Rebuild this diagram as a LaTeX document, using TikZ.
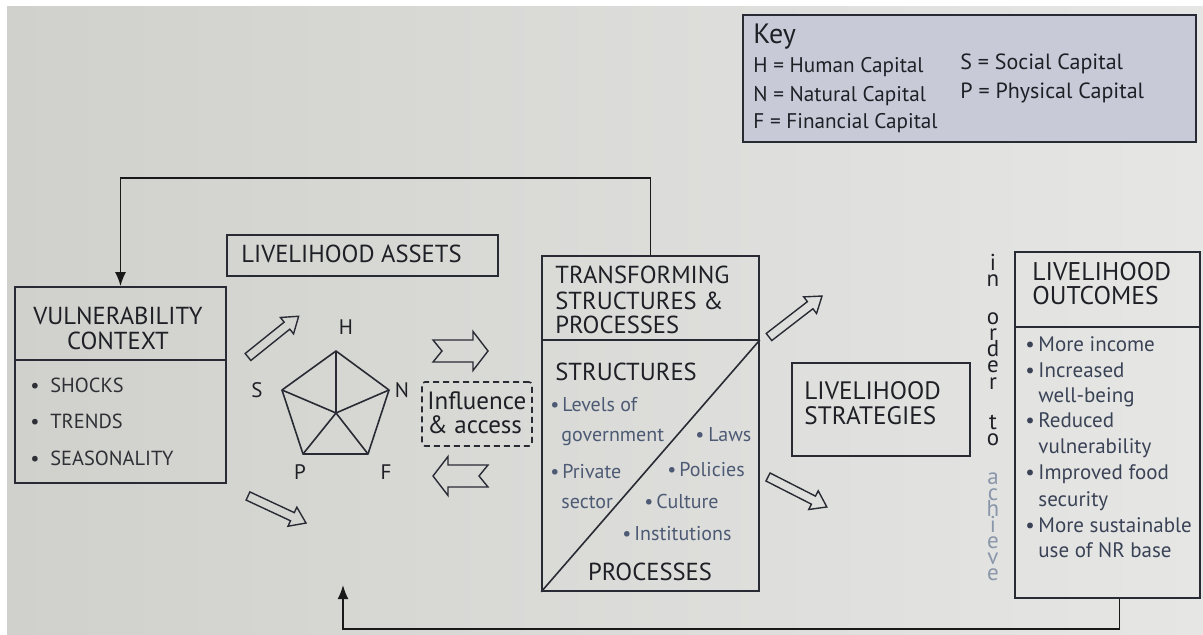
\documentclass[tikz,border=0pt]{standalone}
\usepackage{fontspec}
\setmainfont{PT Sans}
\usetikzlibrary{arrows.meta,fit,calc}
\definecolor{bgL}{RGB}{208,208,204}
\definecolor{bgR}{RGB}{230,231,229}
\definecolor{keyfill}{RGB}{200,202,216}
\definecolor{linec}{RGB}{40,43,52}
\definecolor{titlec}{RGB}{30,32,38}
\definecolor{bulc}{RGB}{46,48,54}
\definecolor{strc}{RGB}{77,90,116}
\definecolor{outc}{RGB}{58,66,86}
\definecolor{achc}{RGB}{138,150,170}
\newcommand{\fsz}[1]{\fontsize{#1}{#1}\selectfont}
\newcommand{\hollowarr}[3]{\draw[harr, shift={#1}, rotate=#2] (0,-4.5) -- ({#3-15},-4.5) -- ({#3-15},-10.5) -- (#3,0) -- ({#3-15},10.5) -- ({#3-15},4.5) -- (0,4.5) -- cycle;}
\newcommand{\notcharr}[2]{\draw[harr, shift={#1}, rotate=#2] (0,-11) -- (40,-11) -- (40,-19.5) -- (55,0) -- (40,19.5) -- (40,11) -- (0,11) -- (9,0) -- cycle;}
\begin{document}
\begin{tikzpicture}[x=0.5pt,y=-0.5pt,
  box/.style={draw=linec, line width=0.8pt, inner sep=0pt},
  ln/.style={draw=linec, line width=0.8pt},
  harr/.style={draw=linec, line width=0.7pt, line join=miter},
  fb/.style={draw=black!90, line width=0.85pt, -{Latex[length=7pt,width=5.5pt]}},
  ttl/.style={inner sep=0pt, text=titlec, font=\fsz{12.3}},
  vbul/.style={inner sep=0pt, text=bulc, font=\fsz{10.2}},
  sbul/.style={inner sep=0pt, text=strc, font=\fsz{10}},
  obul/.style={inner sep=0pt, text=outc, font=\fsz{10.5}},
  keyt/.style={inner sep=0pt, text=titlec, font=\fsz{10.6}},
  pentlab/.style={inner sep=0pt, text=titlec, font=\fsz{10.5}},
  vcol/.style={inner sep=0pt, align=center, anchor=base,
    font={\fsz{11.5}\baselineskip=8pt\lineskiplimit=-100pt\lineskip=0pt}}]
% background
\fill[white] (0,0) rectangle (1203,635);
\shade[left color=bgL, right color=bgR] (7,7) rectangle (1203,635);
\useasboundingbox (0,0) rectangle (1203,635);

% Key
\node[box, line width=1pt, fill=keyfill, fit={(743,15) (1196,142)}] (key) {};
\node[inner sep=0pt, text=titlec, font=\fsz{14}, anchor=base west] (keyh) at (753,44) {Key};
\node[keyt, anchor=base west] (k1) at (753,73) {H = Human Capital};
\node[keyt, anchor=base west] (k2) at (753,102) {N = Natural Capital};
\node[keyt, anchor=base west] (k3) at (753,129) {F = Financial Capital};
\node[keyt, font=\fsz{11}, anchor=base west] (k4) at (960,70) {S = Social Capital};
\node[keyt, font=\fsz{11}, anchor=base west] (k5) at (960,99) {P = Physical Capital};

% Vulnerability context
\node[box, fit={(15,287) (226,483)}] (vul) {};
\draw[ln] (vul.west |- 0,360) -- (vul.east |- 0,360);
\node[ttl, anchor=base] (v1) at (118,325) {VULNERABILITY};
\node[ttl, anchor=base] (v2) at (118,350) {CONTEXT};
\node[vbul, anchor=base west] (v3) at (30,393) {\makebox[10pt][l]{•}SHOCKS};
\node[vbul, anchor=base west] (v4) at (30,429) {\makebox[10pt][l]{•}TRENDS};
\node[vbul, anchor=base west] (v5) at (30,466) {\makebox[10pt][l]{•}SEASONALITY};

% Livelihood assets
\node[box, fit={(227,235) (498,276)}] (assets) {};
\node[ttl, anchor=base west] (a1) at (241,263) {LIVELIHOOD ASSETS};

% pentagon
\coordinate (pH) at (336,351);
\coordinate (pN) at (389,390);
\coordinate (pF) at (368,454);
\coordinate (pP) at (303,454);
\coordinate (pS) at (282,390);
\coordinate (pC) at (336,413);
\draw[ln, line join=round] (pH) -- (pN) -- (pF) -- (pP) -- (pS) -- cycle;
\draw[ln] (pC) -- (pH) (pC) -- (pN) (pC) -- (pF) (pC) -- (pP) (pC) -- (pS);
\node[pentlab] (lH) at (346,327) {H};
\node[pentlab] (lS) at (257,390) {S};
\node[pentlab] (lN) at (402,390) {N};
\node[pentlab] (lP) at (300,472) {P};
\node[pentlab] (lF) at (386,472) {F};

% hollow arrows
\hollowarr{(248,357)}{38.8}{65}
\hollowarr{(248,496)}{-25}{64}
\hollowarr{(769,337)}{37.7}{67}
\hollowarr{(768,477)}{-27}{66}
\notcharr{(433,351)}{0}
\notcharr{(488,476)}{180}

% influence & access
\node[box, dashed, dash pattern=on 3pt off 2pt, rounded corners=1.5pt, fit={(422,382) (532,446)}] (infl) {};
\node[inner sep=0pt, text=titlec, font=\fsz{12.5}, anchor=base west] (i1) at (427,410) {Influence};
\node[inner sep=0pt, text=titlec, font=\fsz{12.5}, anchor=base west] (i2) at (427,434) {\&~access};

% transforming structures & processes
\node[box, fit={(542,256) (759,591)}] (tsp) {};
\draw[ln] (tsp.west |- 0,340) -- (tsp.east |- 0,340);
\draw[ln] (tsp.south west) -- (tsp.east |- 0,340);
\node[ttl, anchor=base west] (s1) at (555,284) {TRANSFORMING};
\node[ttl, anchor=base west] (s2) at (555,310) {STRUCTURES \&};
\node[ttl, anchor=base west] (s3) at (555,334) {PROCESSES};
\node[ttl, anchor=base west] (s4) at (555,381) {STRUCTURES};
\node[sbul, anchor=base west] (s5) at (550,412) {\makebox[6pt][l]{•}Levels of};
\node[sbul, anchor=base west] (s6) at (561,442) {government};
\node[sbul, anchor=base west] (s7) at (695,442) {\makebox[6.5pt][l]{•}Laws};
\node[sbul, anchor=base west] (s8) at (550,479) {\makebox[6pt][l]{•}Private};
\node[sbul, anchor=base west] (s9) at (667,476) {\makebox[6pt][l]{•}Policies};
\node[sbul, anchor=base west] (s10) at (561,509) {sector};
\node[sbul, anchor=base west] (s11) at (644,508) {\makebox[6pt][l]{•}Culture};
\node[sbul, anchor=base west] (s12) at (622,540) {\makebox[6pt][l]{•}Institutions};
\node[ttl, anchor=base] (s13) at (650,580) {PROCESSES};

% livelihood strategies
\node[box, fit={(792,363) (970,456)}] (strat) {};
\node[ttl, font=\fsz{12.6}, anchor=base west] (st1) at (804,400) {LIVELIHOOD};
\node[ttl, font=\fsz{12.6}, anchor=base west] (st2) at (804,425) {STRATEGIES};

% in order to achieve (stacked letters; base = last line)
\node[vcol, text=titlec] (inorder) at (993,445) {i\\n\\[11pt]o\\r\\d\\e\\r\\[12pt]t\\o};
\node[vcol, text=achc] (achieve) at (993,580) {a\\c\\h\\i\\e\\v\\e};

% livelihood outcomes
\node[box, fit={(1015,252) (1200,598)}] (out) {};
\draw[ln] (out.west |- 0,327) -- (out.east |- 0,327);
\node[ttl, font=\fsz{12.8}, anchor=base west] (o1) at (1032,281) {LIVELIHOOD};
\node[ttl, font=\fsz{12.8}, anchor=base west] (o2) at (1032,305) {OUTCOMES};
\node[obul, anchor=base west] (o3) at (1025,352) {\makebox[6.5pt][l]{•}More income};
\node[obul, anchor=base west] (o4) at (1025,378) {\makebox[6.5pt][l]{•}Increased};
\node[obul, anchor=base west] (o5) at (1038,403) {well-being};
\node[obul, anchor=base west] (o6) at (1025,428) {\makebox[6.5pt][l]{•}Reduced};
\node[obul, anchor=base west] (o7) at (1038,453) {vulnerability};
\node[obul, anchor=base west] (o8) at (1025,480) {\makebox[6.5pt][l]{•}Improved food};
\node[obul, anchor=base west] (o9) at (1038,506) {security};
\node[obul, anchor=base west] (o10) at (1025,532) {\makebox[6.5pt][l]{•}More sustainable};
\node[obul, anchor=base west] (o11) at (1038,557) {use of NR base};

% feedback loops
\draw[fb] (tsp.north) -- ++(0,-77) -| (vul.north);
\coordinate (fbend) at (343,585);
\draw[fb] ([xshift=6pt]out.south) -- ++(0,30) -| (fbend);
\end{tikzpicture}
\end{document}
